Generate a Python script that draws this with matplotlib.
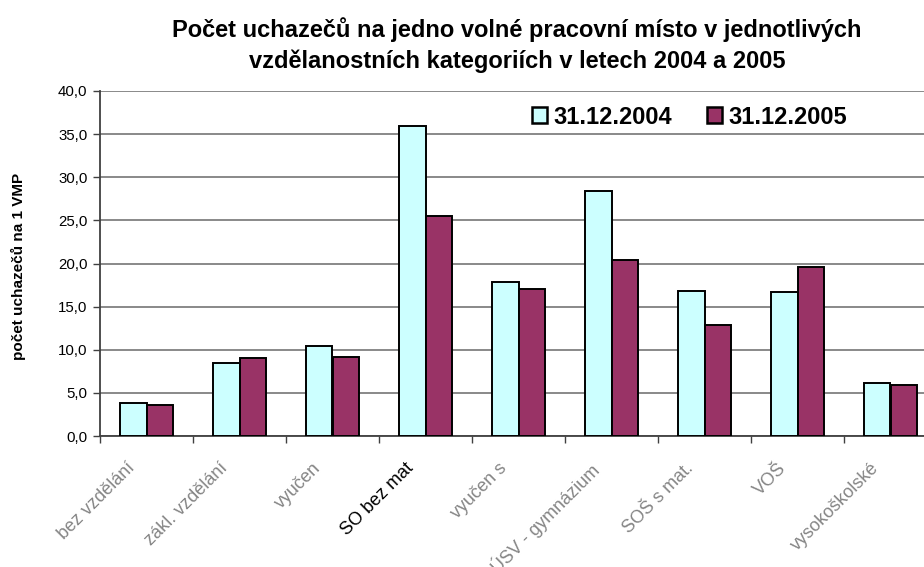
import matplotlib
matplotlib.use("Agg")
import matplotlib.pyplot as plt
import matplotlib.transforms as mtransforms
import numpy as np

plt.rcParams['font.family'] = ['Liberation Sans', 'DejaVu Sans']

categories = ["bez vzdělání", "zákl. vzdělání", "vyučen", "SO bez mat", "vyučen s",
              "ÚSV - gymnázium", "SOŠ s mat.", "VOŠ", "vysokoškolské"]
values_2004 = [3.8, 8.5, 10.4, 35.9, 17.9, 28.4, 16.8, 16.7, 6.1]
values_2005 = [3.6, 9.0, 9.2, 25.5, 17.1, 20.4, 12.9, 19.6, 5.9]
series_labels = ["31.12.2004", "31.12.2005"]
yticks = [0, 5, 10, 15, 20, 25, 30, 35, 40]
title = "Počet uchazečů na jedno volné pracovní místo v jednotlivých\nvzdělanostních kategoriích v letech 2004 a 2005"
ylabel = "počet uchazečů na 1 VMP"

fig = plt.figure(figsize=(9.24, 5.67), dpi=100)
ax = fig.add_axes([100/924, (567-436)/567, 837/924, 345/567])

x = np.arange(len(categories)) + 0.5
w = 0.283
ax.bar(x - w/2, values_2004, width=w, color="#CCFFFF", edgecolor="black", linewidth=1.4,
       label=series_labels[0], zorder=3)
ax.bar(x + w/2, values_2005, width=w, color="#993366", edgecolor="black", linewidth=1.4,
       label=series_labels[1], zorder=3)

ax.set_xlim(0, len(categories))
ax.set_ylim(0, 40)
ax.set_yticks(yticks)
ax.set_yticklabels([f"{v:.1f}".replace(".", ",") for v in yticks], fontsize=10.8)
ax.yaxis.grid(True, color="#808080", linewidth=1.3, zorder=0)
ax.set_axisbelow(True)

ax.set_xticks(np.arange(len(categories) + 1))
ax.set_xticklabels([])
ax.set_xticks(x, minor=True)
ax.set_xticklabels(categories, minor=True, rotation=45, ha="right", va="top", fontsize=13)
ax.tick_params(axis="x", which="minor", length=0, pad=17)
ax.tick_params(axis="x", which="major", length=5, width=1, color="#404040")
ax.tick_params(axis="y", length=5, width=1, color="#404040", pad=4)
shift = mtransforms.ScaledTranslation(-8/100, 0, fig.dpi_scale_trans)
for lbl in ax.get_xticklabels(minor=True):
    lbl.set_transform(lbl.get_transform() + shift)
    if lbl.get_text() == "SO bez mat":
        lbl.set_color("black")
    else:
        lbl.set_color("#858585")

for s in ["top", "right"]:
    ax.spines[s].set_visible(False)
ax.spines["left"].set_color("#404040")
ax.spines["left"].set_linewidth(1.3)
ax.spines["bottom"].set_color("#404040")
ax.spines["bottom"].set_linewidth(1.3)

leg = ax.legend(loc="center left", bbox_to_anchor=((532-100)/837, (436-117)/345), ncol=2,
                frameon=False, prop={"weight": "bold", "size": 17},
                handlelength=0.63, handleheight=0.63, handletextpad=0.26,
                columnspacing=1.5, borderaxespad=0, borderpad=0)
for h in leg.legend_handles:
    h.set_linewidth(1.8)

fig.text(517/924, 1 - 45/567, title, ha="center", va="center", fontsize=17,
         fontweight="bold", linespacing=1.4)
fig.text(18/924, 1 - 266/567, ylabel, rotation=90, ha="center", va="center",
         fontsize=11, fontweight="bold")

fig.savefig("out.png", dpi=100)
